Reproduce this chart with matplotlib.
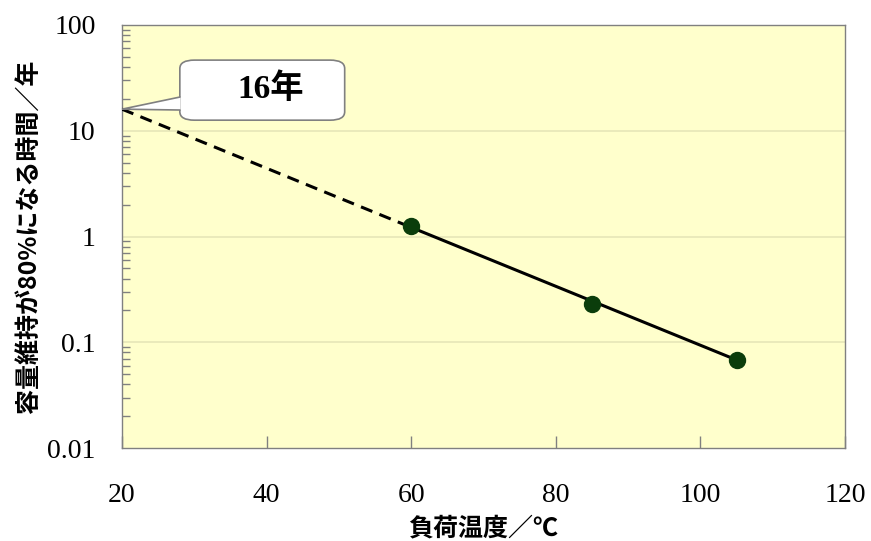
import numpy as np
import matplotlib.pyplot as plt
from matplotlib.patches import FancyBboxPatch, Polygon
from matplotlib.ticker import LogLocator, NullFormatter

# measured points (load temperature vs. time to 80% capacity)
temp = [60, 85, 105]
years = [1.25, 0.23, 0.068]

# fitted line: dashed extrapolation + solid part
extra_x = [20, 60]
extra_y = [16, 1.22]
fit_x = [60, 105]
fit_y = [1.22, 0.068]

x_ticks = [20, 40, 60, 80, 100, 120]
y_ticks = [0.01, 0.1, 1, 10, 100]
y_ticklabels = ['0.01', '0.1', '1', '10', '100']
callout_text = '16年'

jp = ['Noto Sans CJK JP', 'DejaVu Sans']
serif = ['Liberation Serif', 'Noto Sans CJK JP']

fig = plt.figure(figsize=(8.71, 5.41), dpi=100)
ax = fig.add_axes([122 / 871, 1 - 448 / 541, 723 / 871, 423 / 541])
ax.set_facecolor('#FFFFCC')

ax.set_yscale('log')
ax.set_xlim(20, 120)
ax.set_ylim(0.01, 100)

for y in y_ticks[1:-1]:
    ax.axhline(y, color='#E6E6B8', lw=1.2, zorder=1)

ax.plot(extra_x, extra_y, color='black', lw=2.2, ls=(0, (4, 2.5)), zorder=3)
ax.plot(fit_x, fit_y, color='black', lw=2.2, zorder=3)
ax.plot(temp, years, 'o', color='#0B3D0B', ms=11.5, zorder=4)

ax.set_xticks(x_ticks)
ax.set_xticklabels([str(t) for t in x_ticks], family=serif, fontsize=20)
ax.set_yticks(y_ticks)
ax.set_yticklabels(y_ticklabels, family=serif, fontsize=20)
ax.yaxis.set_minor_locator(LogLocator(base=10, subs=np.arange(2, 10)))
ax.yaxis.set_minor_formatter(NullFormatter())
ax.tick_params(axis='x', direction='in', length=9, width=1, color='#808080', pad=25)
ax.tick_params(axis='y', which='major', direction='in', length=0, pad=19)
ax.tick_params(axis='y', which='minor', direction='in', length=6, width=1, color='#808080')
for s in ax.spines.values():
    s.set_color('#808080')
    s.set_linewidth(1)

ax.set_xlabel('負荷温度／℃', family=jp, fontsize=18, fontweight='bold', labelpad=6)
ax.set_ylabel('容量維持が80%になる時間／年', family=jp, fontsize=18, fontweight='bold', labelpad=4)

# callout box
box = FancyBboxPatch((0.080, 0.775), 0.228, 0.142, boxstyle='round,pad=0,rounding_size=0.02',
                     transform=ax.transAxes, facecolor='white', edgecolor='#808080', lw=1.2,
                     zorder=5, clip_on=False)
ax.add_patch(box)
tip = ax.transAxes.inverted().transform(ax.transData.transform((20, 16)))
ptr = Polygon([[0.081, 0.830], tip, [0.081, 0.799]], closed=False, transform=ax.transAxes,
              facecolor='white', edgecolor='#808080', lw=1.2, zorder=6, clip_on=False)
ax.add_patch(ptr)
ax.text(0.205, 0.848, callout_text, transform=ax.transAxes, ha='center', va='center',
        family=serif, fontsize=24, fontweight='bold', zorder=7)

fig.savefig('out.png', dpi=100)
